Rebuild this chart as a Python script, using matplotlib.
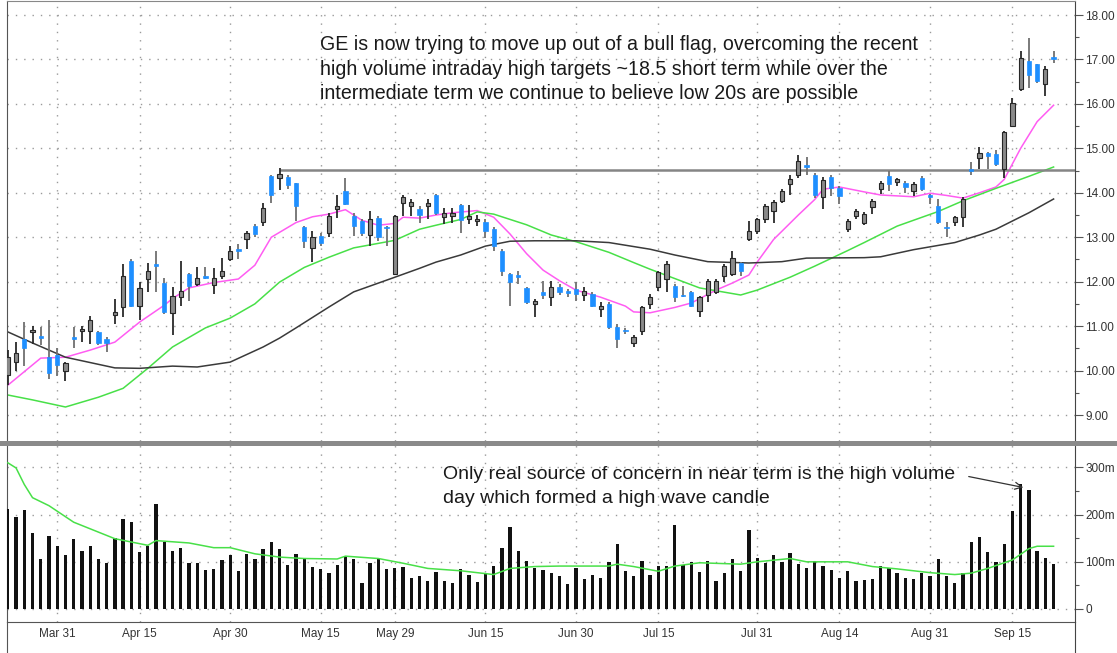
import matplotlib
matplotlib.use('Agg')
import matplotlib.pyplot as plt
import numpy as np
import pandas as pd
from matplotlib.lines import Line2D

plt.rcParams['font.family'] = ['Liberation Sans', 'DejaVu Sans']

# ---------------- data ----------------
holidays = ['2009-04-10', '2009-05-25', '2009-07-03', '2009-09-07']
days = pd.bdate_range('2009-03-23', '2009-09-22')
days = days[~days.isin(pd.to_datetime(holidays))]

opens = [9.90, 10.20, 10.72, 10.87, 10.78, 10.31, 10.35, 9.98, 10.76, 10.88,
         10.90, 10.87, 10.72, 11.24, 11.43, 12.47, 11.45, 12.06, 12.40, 11.98,
         11.30, 11.65, 12.17, 11.95, 12.13, 11.92, 12.13, 12.51, 12.73, 12.96,
         13.25, 13.35, 14.37, 14.34, 14.36, 14.22, 13.22, 12.75, 13.03, 13.10,
         13.63, 14.04, 13.48, 13.37, 13.05, 13.44, 13.22, 12.17, 13.78, 13.70,
         13.63, 13.70, 13.96, 13.45, 13.48, 13.72, 13.40, 13.37, 13.35, 13.18,
         12.69, 12.17, 12.12, 11.86, 11.50, 11.76, 11.65, 11.87, 11.80, 11.84,
         11.70, 11.72, 11.39, 11.50, 10.98, 10.92, 10.62, 10.90, 11.50, 11.87,
         12.06, 11.91, 11.70, 11.76, 11.33, 11.69, 11.76, 12.13, 12.17, 12.43,
         12.96, 13.14, 13.40, 13.60, 13.81, 14.19, 14.41, 14.62, 14.41, 13.90,
         14.36, 14.11, 13.18, 13.48, 13.33, 13.67, 14.08, 14.38, 14.25, 14.23,
         14.05, 14.34, 13.95, 13.71, 13.24, 13.34, 13.45, 14.53, 14.79, 14.90,
         14.87, 14.53, 15.50, 16.33, 16.96, 16.89, 16.44, 17.06]
highs = [10.46, 10.65, 11.10, 11.00, 10.98, 11.14, 10.50, 10.20, 10.98, 11.00,
         11.22, 10.90, 10.76, 11.60, 12.39, 12.50, 12.00, 12.43, 12.70, 12.09,
         11.87, 12.47, 12.20, 12.32, 12.32, 12.30, 12.54, 12.81, 12.84, 13.14,
         13.30, 13.78, 14.40, 14.55, 14.40, 14.23, 13.26, 13.14, 13.09, 13.55,
         13.94, 14.34, 13.55, 13.40, 13.60, 13.48, 13.25, 13.50, 13.96, 13.85,
         13.70, 13.85, 13.98, 13.66, 13.66, 13.74, 13.72, 13.51, 13.40, 13.22,
         12.73, 12.20, 12.25, 11.88, 11.61, 12.02, 12.02, 11.95, 11.84, 12.00,
         11.87, 11.76, 11.54, 11.54, 11.05, 10.95, 10.80, 11.46, 11.72, 12.25,
         12.47, 11.95, 11.90, 11.78, 11.68, 12.06, 12.06, 12.40, 12.69, 12.45,
         13.37, 13.44, 13.74, 13.83, 14.09, 14.41, 14.84, 14.80, 14.45, 14.36,
         14.39, 14.15, 13.42, 13.64, 13.56, 13.86, 14.27, 14.49, 14.34, 14.27,
         14.25, 14.37, 13.97, 13.86, 13.34, 13.48, 13.90, 14.70, 15.02, 14.92,
         14.97, 15.39, 16.14, 17.19, 17.49, 16.90, 16.85, 17.19]
lows = [9.68, 10.00, 10.10, 10.60, 10.57, 9.80, 9.87, 9.76, 10.50, 10.65,
        10.60, 10.57, 10.42, 11.05, 11.20, 11.43, 11.13, 11.76, 11.76, 11.28,
        10.80, 11.46, 11.57, 11.91, 12.05, 11.72, 12.06, 12.47, 12.50, 12.73,
        13.00, 13.25, 13.78, 14.07, 14.09, 13.37, 12.75, 12.45, 12.80, 13.00,
        13.44, 13.72, 13.03, 13.03, 12.80, 12.92, 12.80, 12.15, 13.48, 13.48,
        13.33, 13.40, 13.50, 13.29, 13.33, 13.10, 13.29, 13.25, 12.99, 12.69,
        12.13, 11.46, 11.95, 11.50, 11.20, 11.61, 11.46, 11.69, 11.65, 11.57,
        11.57, 11.43, 11.20, 10.94, 10.50, 10.83, 10.53, 10.80, 11.39, 11.80,
        11.76, 11.55, 11.65, 11.43, 11.20, 11.54, 11.72, 11.99, 12.13, 12.12,
        12.92, 13.07, 13.33, 13.33, 13.76, 13.96, 14.34, 14.41, 13.89, 13.63,
        13.93, 13.74, 13.12, 13.40, 13.27, 13.52, 13.97, 14.05, 14.16, 14.00,
        13.93, 14.03, 13.75, 13.30, 13.00, 13.26, 13.22, 14.40, 14.53, 14.53,
        14.60, 14.34, 15.47, 16.29, 16.36, 16.48, 16.18, 16.93]
closes = [10.30, 10.40, 10.50, 10.92, 10.74, 9.94, 10.13, 10.16, 10.72, 10.93,
          11.13, 10.62, 10.62, 11.31, 12.13, 11.46, 11.85, 12.24, 12.36, 11.31,
          11.68, 11.80, 11.91, 12.09, 12.09, 12.09, 12.25, 12.69, 12.68, 13.10,
          13.07, 13.65, 13.96, 14.42, 14.17, 13.70, 12.92, 13.00, 12.87, 13.48,
          13.70, 13.74, 13.25, 13.10, 13.40, 13.00, 13.20, 13.48, 13.90, 13.80,
          13.51, 13.78, 13.55, 13.55, 13.55, 13.38, 13.48, 13.41, 13.14, 12.81,
          12.25, 11.99, 12.10, 11.54, 11.57, 11.69, 11.87, 11.76, 11.74, 11.72,
          11.80, 11.46, 11.46, 10.98, 10.72, 10.88, 10.75, 11.43, 11.65, 12.21,
          12.40, 11.65, 11.67, 11.46, 11.65, 12.02, 12.02, 12.36, 12.54, 12.25,
          13.14, 13.40, 13.70, 13.80, 14.04, 14.30, 14.71, 14.58, 13.96, 14.28,
          14.11, 13.93, 13.37, 13.59, 13.52, 13.82, 14.23, 14.20, 14.30, 14.12,
          14.20, 14.08, 13.90, 13.34, 13.20, 13.45, 13.86, 14.50, 14.90, 14.82,
          14.64, 15.37, 16.01, 17.04, 16.66, 16.51, 16.78, 17.02]
volume_m = [212, 196, 210, 161, 105, 154, 133, 114, 148, 124,
            133, 107, 97, 150, 191, 184, 120, 133, 222, 143,
            124, 130, 97, 98, 83, 84, 103, 115, 81, 117,
            106, 128, 141, 128, 94, 117, 107, 90, 84, 77,
            93, 113, 106, 56, 97, 108, 85, 86, 88, 66,
            69, 60, 78, 59, 56, 84, 73, 58, 77, 92,
            130, 173, 124, 102, 87, 83, 77, 69, 53, 87,
            64, 72, 66, 100, 137, 81, 70, 102, 72, 92,
            92, 178, 93, 100, 79, 101, 59, 77, 105, 81,
            168, 108, 98, 114, 100, 119, 95, 86, 102, 92,
            83, 66, 81, 59, 62, 64, 92, 86, 77, 66,
            64, 76, 69, 105, 70, 56, 77, 142, 152, 120,
            100, 137, 208, 266, 252, 123, 108, 95]

# moving averages (trading-day index, value)
ma_fast_idx = [0, 4, 7, 10, 13, 16, 19, 20, 22, 25, 28, 30, 32, 35, 37, 39, 41, 43, 45, 47,
               48, 50, 52, 54, 57, 59, 61, 63, 65, 67, 69, 72, 75, 76, 78, 81, 83, 86, 88, 90,
               91, 93, 96, 98, 99, 101, 104, 106, 110, 112, 114, 116, 118, 120, 121, 123, 125, 127]
ma_fast_val = [9.67, 10.28, 10.30, 10.46, 10.64, 11.09, 11.47, 11.62, 11.86, 11.98, 12.06, 12.37,
               13.00, 13.33, 13.46, 13.52, 13.62, 13.38, 13.27, 13.31, 13.45, 13.43, 13.50, 13.55,
               13.60, 13.45, 13.07, 12.63, 12.26, 12.02, 11.81, 11.65, 11.45, 11.32, 11.30, 11.42,
               11.52, 11.81, 11.97, 12.15, 12.44, 12.95, 13.50, 13.85, 14.08, 14.13, 14.02, 13.95,
               13.91, 13.99, 13.94, 13.88, 14.00, 14.13, 14.30, 15.00, 15.60, 15.97]
ma_mid_idx = [0, 3, 7, 11, 14, 17, 20, 24, 27, 30, 33, 36, 39, 42, 47, 50, 52, 55, 57, 59,
              63, 66, 69, 73, 76, 78, 81, 84, 89, 91, 95, 98, 102, 104, 108, 113, 116, 120, 124, 127]
ma_mid_val = [9.45, 9.34, 9.18, 9.40, 9.60, 10.05, 10.53, 10.96, 11.18, 11.50, 11.99, 12.32,
              12.55, 12.76, 12.93, 13.18, 13.27, 13.40, 13.57, 13.52, 13.28, 13.05, 12.90, 12.66,
              12.43, 12.28, 12.07, 11.86, 11.70, 11.81, 12.10, 12.35, 12.70, 12.88, 13.25, 13.58,
              13.82, 14.10, 14.37, 14.58]
ma_slow_idx = [0, 3, 7, 10, 13, 16, 20, 23, 27, 31, 33, 35, 39, 42, 47, 50, 52, 55, 58, 61,
               64, 69, 73, 78, 81, 85, 90, 94, 97, 104, 106, 110, 115, 118, 120, 124, 127]
ma_slow_val = [10.87, 10.62, 10.30, 10.18, 10.06, 10.05, 10.10, 10.08, 10.19, 10.53, 10.73,
               10.96, 11.43, 11.77, 12.10, 12.30, 12.44, 12.60, 12.80, 12.91, 12.92, 12.92,
               12.88, 12.73, 12.60, 12.45, 12.42, 12.45, 12.53, 12.54, 12.56, 12.72, 12.88,
               13.05, 13.18, 13.55, 13.86]
vol_ma_idx = [0, 1, 2, 3, 5, 8, 10, 12, 13, 17, 18, 22, 25, 27, 30, 33, 36, 40, 41, 45, 48,
              51, 55, 59, 61, 64, 67, 73, 74, 76, 79, 81, 84, 89, 91, 95, 97, 102, 105, 108,
              112, 115, 117, 119, 122, 124, 125, 127]
vol_ma_val = [310, 299, 264, 236, 219, 184, 170, 156, 149, 135, 145, 140, 130, 130, 117, 110,
              107, 106, 112, 107, 97, 86, 81, 73, 86, 90, 91, 91, 95, 90, 80, 91, 98, 95, 100,
              107, 100, 100, 90, 85, 77, 73, 76, 86, 104, 128, 133, 133]

resistance_level = 14.52
resistance_start = '2009-05-08'

tick_dates = ['2009-03-31', '2009-04-15', '2009-04-30', '2009-05-15', '2009-05-29',
              '2009-06-15', '2009-06-30', '2009-07-15', '2009-07-31', '2009-08-14',
              '2009-08-31', '2009-09-15']
tick_labels = ['Mar 31', 'Apr 15', 'Apr 30', 'May 15', 'May 29', 'Jun 15', 'Jun 30',
               'Jul 15', 'Jul 31', 'Aug 14', 'Aug 31', 'Sep 15']
price_ticks = [9, 10, 11, 12, 13, 14, 15, 16, 17, 18]
vol_ticks = [0, 100, 200, 300]
vol_tick_labels = ['0', '100m', '200m', '300m']

note_top = ["GE is now trying to move up out of a bull flag, overcoming the recent",
            "high volume intraday high targets ~18.5 short term while over the",
            "intermediate term we continue to believe low 20s are possible"]
note_vol = ["Only real source of concern in near term is the high volume",
            "day which formed a high wave candle"]

# ---------------- figure ----------------
W, H = 1117, 653
fig = plt.figure(figsize=(W / 100, H / 100), dpi=100)
fig.patch.set_facecolor('white')


def fx(p):
    return p / W


def fy(p):
    return 1 - p / H


ax = fig.add_axes([fx(7), fy(441), fx(1075) - fx(7), fy(1) - fy(441)])
axv = fig.add_axes([fx(7), fy(622), fx(1075) - fx(7), fy(445) - fy(622)])

n = len(days)
xs = np.arange(n)
o = np.array(opens); h = np.array(highs); l = np.array(lows); c = np.array(closes)
up = c >= o

blue = '#1e8fff'
# wicks
ax.vlines(xs[up], l[up], h[up], color='#2a2a2a', lw=1.3, zorder=3)
ax.vlines(xs[~up], l[~up], h[~up], color='#707070', lw=1.3, zorder=3)
# bodies
body_bot = np.minimum(o, c)
body_h = np.maximum(np.abs(c - o), 0.04)
ax.bar(xs[up], body_h[up], bottom=body_bot[up], width=0.52, color='#8a8a8a',
       edgecolor='#262626', linewidth=0.8, zorder=4)
ax.bar(xs[~up], body_h[~up], bottom=body_bot[~up], width=0.52, color=blue,
       edgecolor=blue, linewidth=0.5, zorder=4)

ax.plot(ma_fast_idx, ma_fast_val, color='#ff5cf2', lw=1.1, zorder=2)
ax.plot(ma_mid_idx, ma_mid_val, color='#48e048', lw=1.1, zorder=2)
ax.plot(ma_slow_idx, ma_slow_val, color='#3a3a3a', lw=1.1, zorder=2)

xmin, xmax = -0.1, 129.6
rs = int(np.where(days == pd.Timestamp(resistance_start))[0][0])
ax.hlines(resistance_level, rs, xmax, color='#858585', lw=1.8, zorder=2)

tick_pos = [int(np.where(days == pd.Timestamp(d))[0][0]) for d in tick_dates]

for a in (ax, axv):
    a.set_xlim(xmin, xmax)
    a.set_xticks(tick_pos)
    a.grid(True, which='major', linestyle=(0, (1, 5)), color='#9a9a9a', lw=1.0, zorder=0)
    a.set_axisbelow(True)
    a.yaxis.tick_right()
    a.spines['left'].set_color('#555555')
    a.spines['right'].set_color('#444444')
    a.spines['top'].set_color('#888888')
    a.spines['bottom'].set_color('#555555')

ax.set_ylim(8.415, 18.315)
ax.set_yticks(price_ticks)
ax.set_yticklabels(['%.2f' % v for v in price_ticks])
ax.set_yticks(np.array(price_ticks[:-1]) + 0.5, minor=True)
ax.tick_params(axis='x', length=0, labelbottom=False)
ax.tick_params(axis='y', which='major', length=6, width=0.8, color='#555555',
               labelsize=8.5, labelcolor='#333333', pad=1.5)
ax.tick_params(axis='y', which='minor', length=3, width=0.8, color='#555555')
ax.spines['bottom'].set_visible(False)

# volume panel
axv.bar(xs, volume_m, width=0.4, color='#111111', zorder=3)
axv.plot(vol_ma_idx, vol_ma_val, color='#48e048', lw=1.1, zorder=4)
axv.set_ylim(-27.6, 347.7)
axv.set_yticks(vol_ticks)
axv.set_yticklabels(vol_tick_labels)
axv.set_yticks([50, 150, 250], minor=True)
axv.set_xticklabels(tick_labels)
axv.tick_params(axis='x', length=0, labelsize=8.5, labelcolor='#333333', pad=4)
axv.tick_params(axis='y', which='major', length=6, width=0.8, color='#555555',
                labelsize=8.5, labelcolor='#333333', pad=1.5)
axv.tick_params(axis='y', which='minor', length=3, width=0.8, color='#555555')
axv.spines['top'].set_visible(False)

# separator and frame extensions
fig.add_artist(Line2D([0, 1], [fy(443), fy(443)], lw=3.6, color='#8a8a8a'))
fig.add_artist(Line2D([fx(7), fx(7)], [fy(622), fy(652)], lw=0.8, color='#555555'))
fig.add_artist(Line2D([fx(1075), fx(1075)], [fy(622), fy(652)], lw=0.8, color='#444444'))

# annotations
for k, line in enumerate(note_top):
    fig.text(fx(320), fy(50 + 24.7 * k), line, fontsize=14.1, color='#1a1a1a',
             ha='left', va='baseline')
for k, line in enumerate(note_vol):
    fig.text(fx(443), fy(479 + 24 * k), line, fontsize=14.0, color='#1a1a1a',
             ha='left', va='baseline')
fig.add_artist(matplotlib.patches.FancyArrowPatch(
    (fx(966), fy(476)), (fx(1026), fy(488)), transform=fig.transFigure,
    arrowstyle='->,head_length=5,head_width=2.5', color='#333333', lw=0.9))

fig.savefig('out.png', dpi=100, facecolor='white')
